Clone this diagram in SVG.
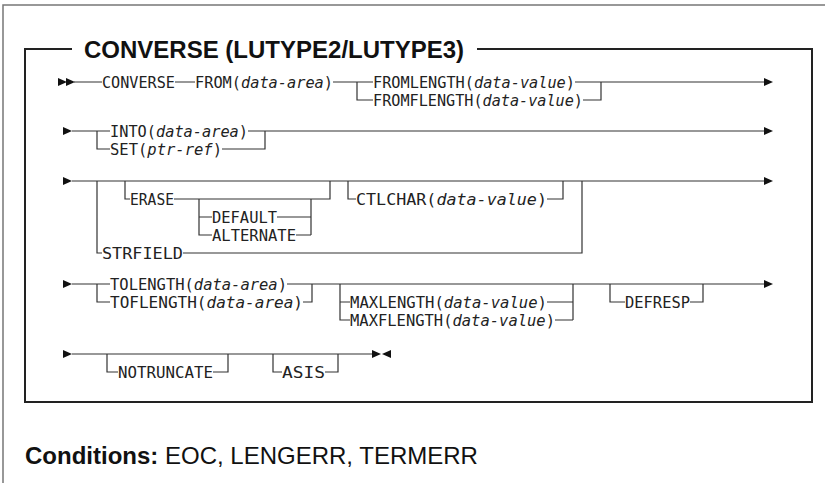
<svg xmlns="http://www.w3.org/2000/svg" width="825" height="483" viewBox="0 0 825 483">
<style>
.frame{fill:none;stroke:#777;stroke-width:1.5}
.box{fill:none;stroke:#222;stroke-width:2}
.ln{fill:none;stroke:#333;stroke-width:1.2}
.ar{fill:#111;stroke:none}
.t{font-family:"DejaVu Sans Mono","Liberation Mono",monospace;font-size:15.3px;fill:#222}
.v{font-style:italic}
.title{font-family:"Liberation Sans",Arial,sans-serif;font-weight:bold;font-size:24px;fill:#111}
.cond{font-family:"Liberation Sans",Arial,sans-serif;font-size:24px;fill:#111}
</style>
<defs>
<path id="ah" d="M0,-4 L9,0 L0,4 Z"/>
</defs>
<path class="frame" d="M3,483 V5 H825"/>
<path class="box" d="M72,49 H25 V402 H812 V49 H477"/>
<text class="title" x="84" y="58">CONVERSE (LUTYPE2/LUTYPE3)</text>

<g id="connectors">
<!-- row 1 -->
<use href="#ah" class="ar" x="58" y="82"/>
<use href="#ah" class="ar" x="66" y="82"/>
<path class="ln" d="M74,82 H102 M175,82 H195 M333,82 H373 M575,82 H764 M357,82 V100 H373 M583,100 H601 V82"/>
<use href="#ah" class="ar" x="764" y="82"/>
<!-- row 2 -->
<use href="#ah" class="ar" x="63" y="131"/>
<path class="ln" d="M72,131 H110 M248,131 H764 M97,131 V149 H110 M222,149 H265 V131"/>
<use href="#ah" class="ar" x="764" y="131"/>
<!-- row 3 -->
<use href="#ah" class="ar" x="63" y="181"/>
<path class="ln" d="M72,181 H764 M97,181 V253 H102 M183,253 H582 V181 M125,181 V199 H130 M174,199 H330 V181 M199,199 V235 H212 M199,217 H212 M277,217 H311 M296,235 H311 M311,199 V235 M348,181 V199 H356 M547,199 H563 V181"/>
<use href="#ah" class="ar" x="764" y="181"/>
<!-- row 4 -->
<use href="#ah" class="ar" x="63" y="284"/>
<path class="ln" d="M72,284 H110 M287,284 H764 M97,284 V302 H110 M303,302 H312 V284 M340,284 V320 H350 M340,302 H350 M547,302 H573 M555,320 H573 M573,284 V320 M610,284 V302 H625 M690,302 H703 V284"/>
<use href="#ah" class="ar" x="764" y="284"/>
<!-- row 5 -->
<use href="#ah" class="ar" x="63" y="354"/>
<path class="ln" d="M72,354 H372 M107,354 V372 H118 M213,372 H228 V354 M273,354 V372 H282 M325,372 H338 V354"/>
<use href="#ah" class="ar" x="372" y="354"/>
<use href="#ah" class="ar" transform="translate(391,354) scale(-1,1)"/>
</g>

<g id="n-converse"><text class="t" x="102" y="87.6" textLength="73" lengthAdjust="spacingAndGlyphs">CONVERSE</text></g>
<g id="n-from"><text class="t" x="195" y="87.6" textLength="138" lengthAdjust="spacingAndGlyphs">FROM(<tspan class="v">data-area</tspan>)</text></g>
<g id="n-fromlength"><text class="t" x="373" y="87.6" textLength="202" lengthAdjust="spacingAndGlyphs">FROMLENGTH(<tspan class="v">data-value</tspan>)</text></g>
<g id="n-fromflength"><text class="t" x="373" y="105.6" textLength="210" lengthAdjust="spacingAndGlyphs">FROMFLENGTH(<tspan class="v">data-value</tspan>)</text></g>
<g id="n-into"><text class="t" x="110" y="136.6" textLength="138" lengthAdjust="spacingAndGlyphs">INTO(<tspan class="v">data-area</tspan>)</text></g>
<g id="n-set"><text class="t" x="110" y="154.6" textLength="112" lengthAdjust="spacingAndGlyphs">SET(<tspan class="v">ptr-ref</tspan>)</text></g>
<g id="n-erase"><text class="t" x="130" y="204.6" textLength="44" lengthAdjust="spacingAndGlyphs">ERASE</text></g>
<g id="n-default"><text class="t" x="212" y="222.6" textLength="65" lengthAdjust="spacingAndGlyphs">DEFAULT</text></g>
<g id="n-alternate"><text class="t" x="212" y="240.6" textLength="84" lengthAdjust="spacingAndGlyphs">ALTERNATE</text></g>
<g id="n-strfield"><text class="t" x="102" y="258.6" textLength="81" lengthAdjust="spacingAndGlyphs">STRFIELD</text></g>
<g id="n-ctlchar"><text class="t" x="356" y="204.6" textLength="191" lengthAdjust="spacingAndGlyphs">CTLCHAR(<tspan class="v">data-value</tspan>)</text></g>
<g id="n-tolength"><text class="t" x="110" y="289.6" textLength="177" lengthAdjust="spacingAndGlyphs">TOLENGTH(<tspan class="v">data-area</tspan>)</text></g>
<g id="n-toflength"><text class="t" x="110" y="307.6" textLength="193" lengthAdjust="spacingAndGlyphs">TOFLENGTH(<tspan class="v">data-area</tspan>)</text></g>
<g id="n-maxlength"><text class="t" x="350" y="307.6" textLength="197" lengthAdjust="spacingAndGlyphs">MAXLENGTH(<tspan class="v">data-value</tspan>)</text></g>
<g id="n-maxflength"><text class="t" x="350" y="325.6" textLength="205" lengthAdjust="spacingAndGlyphs">MAXFLENGTH(<tspan class="v">data-value</tspan>)</text></g>
<g id="n-defresp"><text class="t" x="625" y="307.6" textLength="65" lengthAdjust="spacingAndGlyphs">DEFRESP</text></g>
<g id="n-notruncate"><text class="t" x="118" y="377.6" textLength="95" lengthAdjust="spacingAndGlyphs">NOTRUNCATE</text></g>
<g id="n-asis"><text class="t" x="282" y="377.6" textLength="43" lengthAdjust="spacingAndGlyphs">ASIS</text></g>

<text class="cond" x="25" y="464"><tspan font-weight="bold">Conditions:</tspan> EOC, LENGERR, TERMERR</text>
</svg>
